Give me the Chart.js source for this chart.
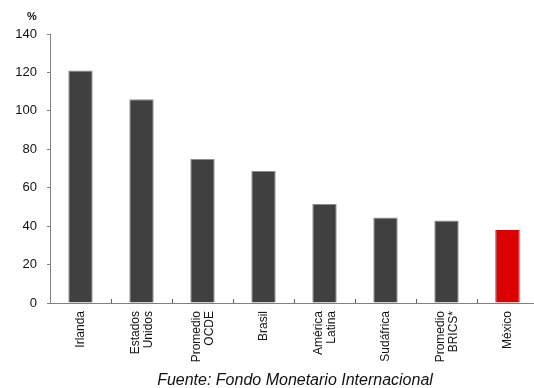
<!DOCTYPE html>
<html>
<head>
<meta charset="utf-8">
<script src="https://cdn.jsdelivr.net/npm/chart.js@4/dist/chart.umd.min.js"></script>
<style>
  html, body { margin: 0; padding: 0; background: #fff; overflow: hidden; }
  #wrap { width: 534px; height: 388px; overflow: hidden; }
</style>
</head>
<body>
<div id="wrap"><canvas id="deuda" width="538" height="388"></canvas></div>
<script>
// deuda publica, % del PIB
var paises = [
    'Irlanda',
    ['Estados', 'Unidos'],
    ['Promedio', 'OCDE'],
    'Brasil',
    ['América', 'Latina'],
    'Sudáfrica',
    ['Promedio', 'BRICS*'],
    'México'
];
var valores = [121, 106, 75, 68.7, 51.5, 44.5, 43, 38];
var yTicks = [0, 20, 40, 60, 80, 100, 120, 140];
var unidad = '%';
var fuente = 'Fuente: Fondo Monetario Internacional';

var colores = valores.map(function(v, i) { return i === 7 ? '#dd0000' : '#404040'; });
var bordes = valores.map(function(v, i) { return i === 7 ? '#dd0000' : '#8c8c8c'; });

var chart_deuda = new Chart(document.getElementById('deuda'), {
    type: 'bar',
    data: {
        labels: paises,
        datasets: [
            {
                data: valores,
                backgroundColor: colores,
                borderColor: bordes,
                borderWidth: 1,
                categoryPercentage: 1,
                barPercentage: 0.4
            }
        ]
    },
    options: {
        animation: false,
        responsive: false,
        layout: { padding: { top: 34, left: 0, right: 0, bottom: 0 } },
        plugins: {
            legend: { display: false },
            tooltip: { enabled: false }
        },
        scales: {
            x: {
                grid: { drawOnChartArea: false, drawTicks: false },
                border: { color: '#808080', width: 1 },
                ticks: { display: false },
                afterFit: function(scale) { scale.height = 85; }
            },
            y: {
                min: 0,
                max: 140,
                afterBuildTicks: function(scale) {
                    scale.ticks = yTicks.map(function(v) { return { value: v }; });
                },
                grid: { drawOnChartArea: false, drawTicks: true, tickLength: 3, color: '#808080' },
                border: { color: '#808080', width: 1 },
                ticks: {
                    color: '#111',
                    padding: 10,
                    font: { family: '"Liberation Sans", Arial', size: 13 }
                },
                afterFit: function(scale) { scale.width = 50; }
            }
        }
    },
    plugins: [{
        id: 'adornos',
        beforeDraw: function(chart) {
            var ctx = chart.ctx;
            ctx.save();
            ctx.fillStyle = 'white';
            ctx.fillRect(0, 0, chart.width, chart.height);
            ctx.restore();
        },
        afterDraw: function(chart) {
            var ctx = chart.ctx;
            var area = chart.chartArea;
            var x = chart.scales.x;
            ctx.save();
            // marcas entre categorias, hacia adentro
            ctx.strokeStyle = '#606060';
            ctx.lineWidth = 1;
            for (var i = 1; i < paises.length; i++) {
                var px = Math.round((x.getPixelForTick(i - 1) + x.getPixelForTick(i)) / 2) + 0.5;
                ctx.beginPath();
                ctx.moveTo(px, area.bottom);
                ctx.lineTo(px, area.bottom - 4);
                ctx.stroke();
            }
            // etiquetas verticales, lineas centradas en la categoria
            ctx.fillStyle = '#111';
            ctx.font = '12px "Liberation Sans", Arial';
            ctx.textAlign = 'right';
            ctx.textBaseline = 'middle';
            var lh = 13;
            paises.forEach(function(lab, i) {
                var lines = Array.isArray(lab) ? lab : [lab];
                var cx = x.getPixelForTick(i);
                ctx.save();
                ctx.translate(cx, area.bottom + 8);
                ctx.rotate(-Math.PI / 2);
                lines.forEach(function(t, j) {
                    ctx.fillText(t, 0, (j - (lines.length - 1) / 2) * lh + 0.5);
                });
                ctx.restore();
            });
            // unidad arriba del eje
            ctx.font = 'bold 11px "Liberation Sans", Arial';
            ctx.textAlign = 'center';
            ctx.textBaseline = 'middle';
            ctx.fillText(unidad, 32, 17);
            // fuente
            ctx.font = 'italic 16px "Liberation Sans", Arial';
            ctx.textBaseline = 'alphabetic';
            ctx.fillText(fuente, 295, 385);
            ctx.restore();
        }
    }]
});
</script>
</body>
</html>
